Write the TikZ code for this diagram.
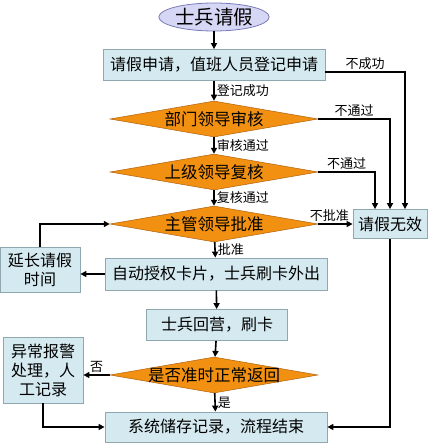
\documentclass[tikz,border=0pt]{standalone}
\usepackage{fontspec}
\newfontfamily\cjk{Noto Sans CJK SC}
\usepackage{tikz}
\usetikzlibrary{arrows.meta,positioning,calc,shapes.geometric}
\definecolor{boxfill}{HTML}{D5EAF0}
\definecolor{boxline}{HTML}{8FA8B0}
\definecolor{ovalfill}{HTML}{D6D6F5}
\definecolor{ovalline}{HTML}{7A7AB8}
\definecolor{diafill}{HTML}{F29111}
\definecolor{dialine}{HTML}{B0600F}
\newcommand{\dtxt}[1]{\makebox[0pt]{#1}}

\begin{document}
\begin{tikzpicture}[x=1pt,y=-1pt,>={Triangle[length=6pt,width=6pt]},
  every node/.style={font=\cjk\fontsize{16}{19}\selectfont},
  proc/.style={rectangle,draw=boxline,line width=0.8pt,fill=boxfill,inner sep=0pt,align=center},
  decision/.style={diamond,draw=dialine,line width=0.5pt,fill=diafill,inner sep=0pt,minimum width=208pt,minimum height=36pt,font=\cjk\fontsize{16.5}{19}\selectfont},
  lab/.style={font=\cjk\fontsize{13}{15}\selectfont,inner sep=2pt},
  flow/.style={->,line width=1.6pt}]
  \useasboundingbox (0,0) rectangle (429,443);
  \node[ellipse,draw=ovalline,line width=0.8pt,fill=ovalfill,minimum width=108pt,minimum height=28pt,inner sep=0pt,font=\cjk\fontsize{19.5}{22}\selectfont] (start) at (214,17) {士兵请假};
  \node[proc,minimum width=222pt,minimum height=31pt] (req) at (214,65) {请假申请，值班人员登记申请};
  \node[decision] (d1) at (214,119) {\dtxt{部门领导审核}};
  \node[decision] (d2) at (214,172) {\dtxt{上级领导复核}};
  \node[decision] (d3) at (214,224) {\dtxt{主管领导批准}};
  \node[proc,minimum width=74pt,minimum height=29pt] (inval) at (390,224) {请假无效};
  \node[proc,minimum width=222pt,minimum height=32pt] (auth) at (216,274) {自动授权卡片，士兵刷卡外出};
  \node[proc,minimum width=80pt,minimum height=45pt] (ext) at (40,270) {延长请假\\时间};
  \node[proc,minimum width=141pt,minimum height=31pt] (back) at (217,325) {士兵回营，刷卡};
  \node[decision] (d4) at (214,375) {\dtxt{是否准时正常返回}};
  \node[proc,minimum width=80pt,minimum height=66pt] (warn) at (43,370) {异常报警\\处理，人\\工记录};
  \node[proc,minimum width=222pt,minimum height=30pt] (end) at (216,427) {系统储存记录，流程结束};

  \draw[flow] (start) -- (req);
  \draw[flow] (req) -- node[lab,right] {登记成功} (d1);
  \draw[flow] (d1) -- node[lab,right] {审核通过} (d2);
  \draw[flow] (d2) -- node[lab,right] {复核通过} (d3);
  \draw[flow] (d3) -- node[lab,right] {批准} (auth);
  \draw[flow] (auth) -- (back);
  \draw[flow] (back) -- (d4);
  \draw[flow] (d4) -- node[lab,right] {是} (end);
  \draw[flow] ([yshift=-7pt]req.east) -| node[lab,above,pos=0.25] {不成功} ([xshift=15pt]inval.north);
  \draw[flow] (d1.east) -| node[lab,above,pos=0.25] {不通过} (inval.north);
  \draw[flow] (d2.east) -| node[lab,above,pos=0.25] {不通过} ([xshift=-15pt]inval.north);
  \draw[flow] (d3.east) -- node[lab,above,xshift=-6pt] {不批准} (inval.west);
  \draw[flow] (auth.west) -- (auth.west -| ext.east);
  \draw[flow] (ext.north) |- (d3.west);
  \draw[flow] (d4.west) -- node[lab,above] {否} (d4.west -| warn.east);
  \draw[flow] (warn.south) |- (end.west);
  \draw[flow] (inval.south) |- (end.east);
\end{tikzpicture}
\end{document}
